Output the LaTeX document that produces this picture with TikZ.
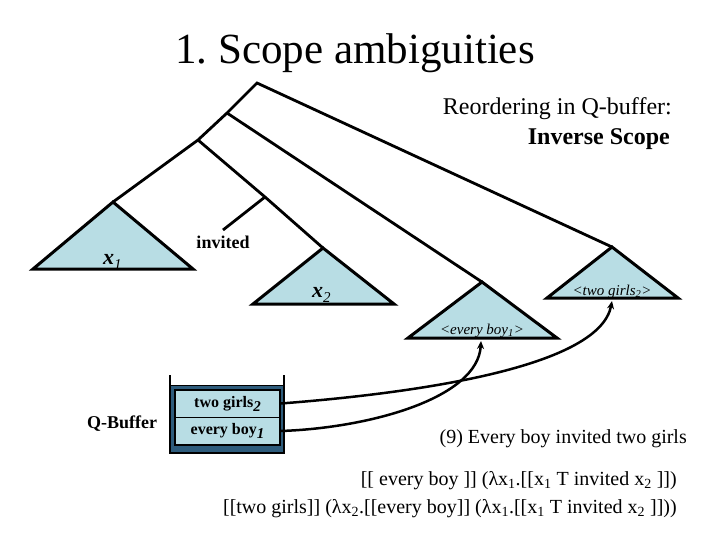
\documentclass[tikz,border=0pt]{standalone}
\usepackage{fontspec}
\setmainfont{Liberation Serif}
\usetikzlibrary{arrows.meta}
\definecolor{tri}{RGB}{184,221,228}
\definecolor{qbox}{RGB}{46,92,124}
\frenchspacing
\begin{document}
\begin{tikzpicture}[x=1pt,y=-1pt,
  every node/.style={inner sep=0pt},
  tree/.style={line width=2.8pt},
  trishape/.style={fill=tri,draw=black,line width=3pt,line join=miter},
  cell/.style={draw=black,line width=1.5pt,fill=tri,minimum width=105pt,minimum height=27.5pt,font=\fontsize{16}{18}\selectfont\bfseries},
  arr/.style={line width=2.5pt,-{Stealth[length=8pt,width=7pt]}}]
\useasboundingbox (0,0) rectangle (720,540);

% tree points
\coordinate (root) at (257,83);
\coordinate (A) at (227,113);
\coordinate (B) at (198,140);
\coordinate (C) at (265,197);
\coordinate (invend) at (223,230);
\coordinate (t1) at (113,202);
\coordinate (t2) at (323,248);
\coordinate (t3) at (482,282);
\coordinate (t4) at (612,247);
\coordinate (t3b) at (481,341);
\coordinate (t4b) at (612,301);

% triangles
\draw[trishape] (t1) -- (33,269) -- (193,269) -- cycle;
\draw[trishape] (t2) -- (253,304) -- (394,304) -- cycle;
\draw[trishape] (t3) -- (408,338) -- (557,338) -- cycle;
\draw[trishape] (t4) -- (547,298) -- (678,298) -- cycle;

% tree lines
\draw[tree] (t1) -- (B) -- (A) -- (root) -- (t4);
\draw[tree] (A) -- (t3);
\draw[tree] (B) -- (C) -- (t2);
\draw[tree] (C) -- (invend);

% labels in tree
\node[anchor=base, font=\fontsize{43}{50}\selectfont] (title) at (355,64) {1. Scope ambiguities};
\node[anchor=base east, font=\fontsize{24}{28}\selectfont] (reo) at (672,115) {Reordering in Q-buffer:};
\node[anchor=base east, font=\fontsize{24}{28}\selectfont\bfseries] (invsc) at (670,145) {Inverse Scope};
\node[anchor=base, font=\fontsize{18}{20}\selectfont\bfseries] (invl) at (223,248) {invited};
\node[anchor=base west, font=\fontsize{22}{24}\selectfont\bfseries\itshape] (x1) at (103,264) {x\raisebox{-5pt}{\fontsize{15}{15}\selectfont\mdseries 1}};
\node[anchor=base west, font=\fontsize{22}{24}\selectfont\bfseries\itshape] (x2) at (312,297) {x\raisebox{-5pt}{\fontsize{15}{15}\selectfont\mdseries 2}};
\node[anchor=base, font=\fontsize{15}{17}\selectfont\itshape] (eb) at (482,334) {<every boy\textsubscript{1}>};
\node[anchor=base, font=\fontsize{15}{17}\selectfont\itshape] (tgl) at (612,295) {<two girls\textsubscript{2}>};

% Q-buffer
\node[anchor=base, font=\fontsize{18}{20}\selectfont\bfseries] (qb) at (122,428) {Q-Buffer};
\fill[qbox, draw=black, line width=1pt] (170,385) rectangle (284,453);
\draw[line width=1.5pt] (170,375) -- (170,453) -- (284,453) -- (284,375);
\node[cell] (c1) at (227.5,403.5) {two girls\raisebox{-4pt}{\fontsize{15}{15}\selectfont\itshape 2}};
\node[cell] (c2) at (227.5,431) {every boy\raisebox{-4pt}{\fontsize{15}{15}\selectfont\itshape 1}};

% arrows
\draw[arr] (c1.east) .. controls (430,392) and (600,365) .. (t4b);
\draw[arr] (c2.east) .. controls (370,428) and (478,398) .. (t3b);

% sentences
\node[anchor=base east, font=\fontsize{20}{24}\selectfont] (s9) at (687,443) {(9) Every boy invited two girls};
\node[anchor=base east, font=\fontsize{20}{24}\selectfont] (f1) at (677,485) {[[ every boy ]] (λx\textsubscript{1}.[[x\textsubscript{1} T invited x\textsubscript{2} ]])};
\node[anchor=base east, font=\fontsize{20}{24}\selectfont] (f2) at (677,513) {[[two girls]] (λx\textsubscript{2}.[[every boy]] (λx\textsubscript{1}.[[x\textsubscript{1} T invited x\textsubscript{2} ]]))};
\end{tikzpicture}
\end{document}
